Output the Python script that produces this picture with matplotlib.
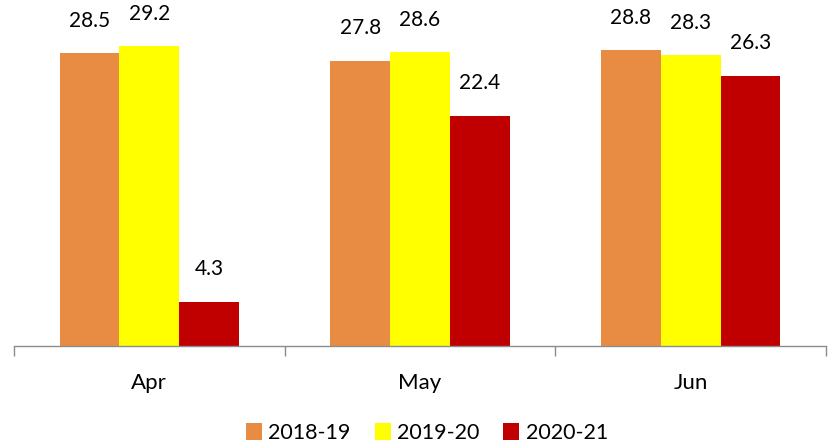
import matplotlib
matplotlib.use("Agg")
import matplotlib.pyplot as plt
import numpy as np

plt.rcParams['font.family'] = ['Lato', 'DejaVu Sans']

months = ["Apr", "May", "Jun"]
series_names = ["2018-19", "2019-20", "2020-21"]
v2018 = [28.5, 27.8, 28.8]
v2019 = [29.2, 28.6, 28.3]
v2020 = [4.3, 22.4, 26.3]
colors = ["#E88C44", "#FFFF00", "#C00000"]

fig = plt.figure(figsize=(8.29, 4.45), dpi=100)
ax = fig.add_axes([14/829, 99/445, 812/829, 346/445])

x = np.arange(len(months))
w = 0.221
for i, (vals, name, c) in enumerate(zip([v2018, v2019, v2020], series_names, colors)):
    bars = ax.bar(x + (i - 1) * w, vals, width=w, color=c, label=name)
    for b, v in zip(bars, vals):
        ax.text(b.get_x() + b.get_width() / 2, v + 2.2, f"{v:.1f}",
                ha="center", va="bottom", fontsize=15)

ax.set_xlim(-0.5, 2.5)
ax.set_ylim(0, 33.7)
for s in ["top", "right", "left"]:
    ax.spines[s].set_visible(False)
ax.spines["bottom"].set_color("#8C8C8C")
ax.spines["bottom"].set_linewidth(1.0)
ax.set_yticks([])
ax.set_xticks([-0.5, 0.5, 1.5, 2.5])
ax.set_xticklabels([])
ax.tick_params(axis="x", length=7, color="#8C8C8C", width=1.0)
for xi, m in zip(x, months):
    ax.text(xi, -3.6, m, ha="center", va="center", fontsize=16)

handles, labels = ax.get_legend_handles_labels()
fig.legend(handles, labels, loc="center", bbox_to_anchor=(0.515, 12/445), ncol=3,
           frameon=False, fontsize=15.5, handlelength=0.75, handleheight=0.8,
           handletextpad=0.3, columnspacing=1.1)

fig.savefig("out.png", dpi=100)
